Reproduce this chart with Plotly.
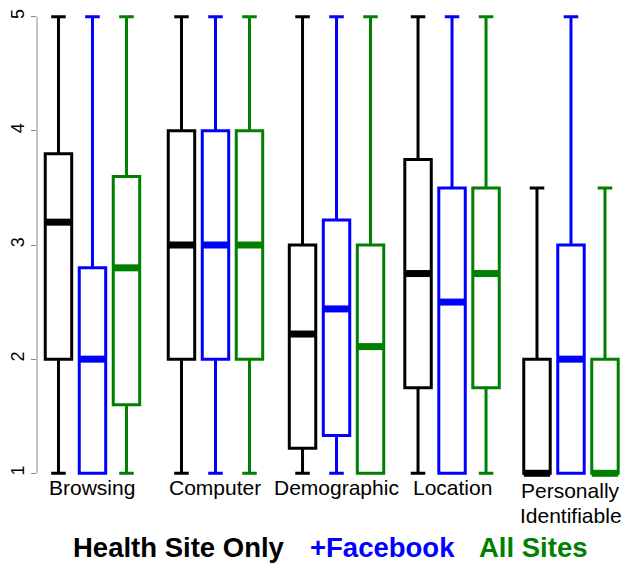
import plotly.graph_objects as go

# ---------------- data ----------------
categories = ["Browsing", "Computer", "Demographic", "Location", "Personally<br>Identifiable"]
series_names = ["Health Site Only", "+Facebook", "All Sites"]

# Health Site Only
hs_low = [1, 1, 1, 1, 1]
hs_q1 = [2, 2, 1.22, 1.75, 1]
hs_med = [3.2, 3, 2.22, 2.75, 1]
hs_q3 = [3.8, 4, 3, 3.75, 2]
hs_high = [5, 5, 5, 5, 3.5]

# +Facebook
fb_low = [1, 1, 1, 1, 1]
fb_q1 = [1, 2, 1.33, 1, 1]
fb_med = [2, 3, 2.44, 2.5, 2]
fb_q3 = [2.8, 4, 3.22, 3.5, 3]
fb_high = [5, 5, 5, 5, 5]

# All Sites
al_low = [1, 1, 1, 1, 1]
al_q1 = [1.6, 2, 1, 1.75, 1]
al_med = [2.8, 3, 2.11, 2.75, 1]
al_q3 = [3.6, 4, 3, 3.5, 2]
al_high = [5, 5, 5, 5, 3.5]

y_ticks = [1, 2, 3, 4, 5]

# ---------------- layout constants ----------------
W, H = 624, 563
ML, MR, MT, MB = 37, 0, 11, 84
GROUP_X = [1, 2, 2.984, 3.923, 4.890]
OFFSETS = [-0.2764, 0, 0.2764]
BOX_W = 0.215
COLORS = ["#000000", "#0000FF", "#008000"]
FONT = "Liberation Sans, Arial, sans-serif"

stats = [
    (hs_low, hs_q1, hs_med, hs_q3, hs_high),
    (fb_low, fb_q1, fb_med, fb_q3, fb_high),
    (al_low, al_q1, al_med, al_q3, al_high),
]

fig = go.Figure()
for s, (lo, q1, med, q3, hi) in enumerate(stats):
    xs = [g + OFFSETS[s] for g in GROUP_X]
    fig.add_trace(go.Box(
        x=xs, q1=q1, median=med, q3=q3, lowerfence=lo, upperfence=hi,
        width=BOX_W, whiskerwidth=0.55,
        line=dict(color=COLORS[s], width=3),
        fillcolor="rgba(255,255,255,0)",
        boxpoints=False, name=series_names[s], showlegend=False,
        hoverinfo="skip",
    ))
    mx, my = [], []
    for x, m in zip(xs, med):
        mx += [x - BOX_W / 2, x + BOX_W / 2, None]
        my += [m, m, None]
    fig.add_trace(go.Scatter(
        x=mx, y=my, mode="lines", line=dict(color=COLORS[s], width=7),
        cliponaxis=False, showlegend=False, hoverinfo="skip",
    ))

plot_h = H - MT - MB
plot_w = W - ML - MR


def py2paper(py):
    return 1 - (py - MT) / plot_h


def px2paper(px):
    return (px - ML) / plot_w


annotations = []
label_font = dict(family=FONT, size=21, color="black")
for g, cat in zip(GROUP_X, categories):
    lines = cat.split("<br>")
    if len(lines) == 1:
        annotations.append(dict(x=g, y=py2paper(488), xref="x", yref="paper",
                                text=lines[0], showarrow=False, yanchor="middle",
                                xanchor="center", font=label_font))
    else:
        for k, ln in enumerate(lines):
            annotations.append(dict(x=g, y=py2paper(491 + 24 * k), xref="x", yref="paper",
                                    text=ln, showarrow=False, yanchor="middle",
                                    xanchor="center", font=label_font))

legend_centers = [178.5, 382.5, 533]
for name, col, cx in zip(series_names, COLORS, legend_centers):
    annotations.append(dict(x=px2paper(cx), y=py2paper(547), xref="paper", yref="paper",
                            text="<b>" + name + "</b>", showarrow=False,
                            xanchor="center", yanchor="middle", borderpad=0,
                            font=dict(family=FONT, size=27.5, color=col)))

fig.update_layout(
    width=W, height=H,
    margin=dict(l=ML, r=MR, t=MT, b=MB, pad=0),
    paper_bgcolor="white", plot_bgcolor="white",
    boxmode="overlay",
    xaxis=dict(range=[0.549, 5.321], showgrid=False, zeroline=False,
               showline=False, showticklabels=False, ticks="", automargin=False),
    yaxis=dict(range=[0.95, 5.05], tickvals=y_ticks, ticktext=[str(t) for t in y_ticks],
               tickangle=-90, ticks="outside", ticklen=5, tickcolor="#888888", tickwidth=1,
               showgrid=False, zeroline=False, showline=False, automargin=False,
               tickfont=dict(family=FONT, size=18, color="black")),
    shapes=[dict(type="line", xref="paper", yref="y", x0=0, x1=0, y0=1, y1=5,
                 line=dict(color="#888888", width=1))],
    annotations=annotations,
    font=dict(family=FONT),
)

fig.write_html("out.html", config={"displayModeBar": False},
               post_script="document.body.style.margin='0';document.body.style.padding='0';")
